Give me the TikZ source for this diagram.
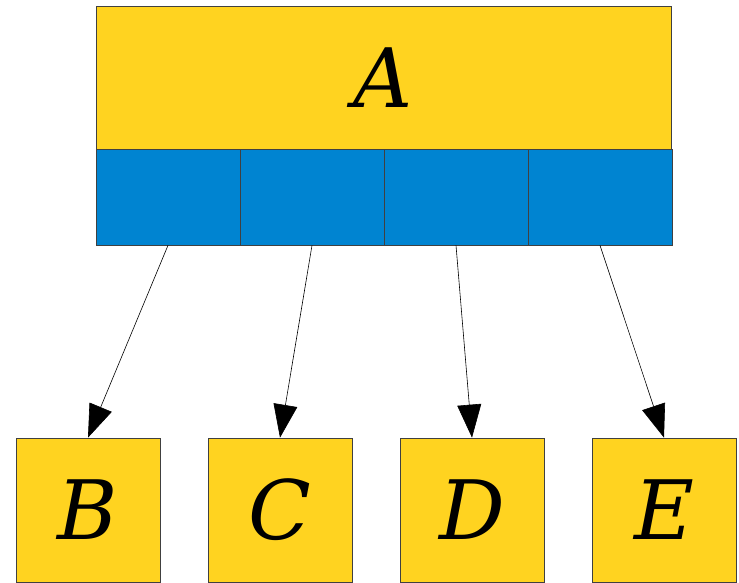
\documentclass[tikz,border=0pt]{standalone}
\usepackage{fontspec}
\setmainfont{DejaVu Serif}
\usetikzlibrary{arrows.meta,positioning}
\definecolor{boxyellow}{HTML}{FFD320}
\definecolor{cellblue}{HTML}{0084D1}

\begin{document}
\begin{tikzpicture}[
    x=1pt, y=-1pt,
    block/.style={draw=black!75, line width=0.7pt, fill=boxyellow, inner sep=0pt, minimum width=144pt, minimum height=144pt, font=\fontsize{82}{82}\selectfont\itshape},
    cell/.style={draw=black!75, line width=0.7pt, fill=cellblue, inner sep=0pt, minimum width=144pt, minimum height=96pt},
    >={Triangle[length=33pt,width=24pt]}
  ]
    \useasboundingbox (0,0) rectangle (739,582);
    \node[block, minimum width=575pt, minimum height=143pt] (top) at (383.5,77.5) {A};

    \node[cell] (cellone) at (168,197) {};
    \node[cell] (celltwo) at (312,197) {};
    \node[cell] (cellthree) at (456,197) {};
    \node[cell] (cellfour) at (600,197) {};

    \node[block] (leafb) at (88,510) {B};
    \node[block] (leafc) at (280,510) {C};
    \node[block] (leafd) at (472,510) {D};
    \node[block] (leafe) at (664,510) {E};

    \draw[->, line width=0.6pt] (cellone.south) -- (leafb.north);
    \draw[->, line width=0.6pt] (celltwo.south) -- (leafc.north);
    \draw[->, line width=0.6pt] (cellthree.south) -- (leafd.north);
    \draw[->, line width=0.6pt] (cellfour.south) -- (leafe.north);
  \end{tikzpicture}
\end{document}
